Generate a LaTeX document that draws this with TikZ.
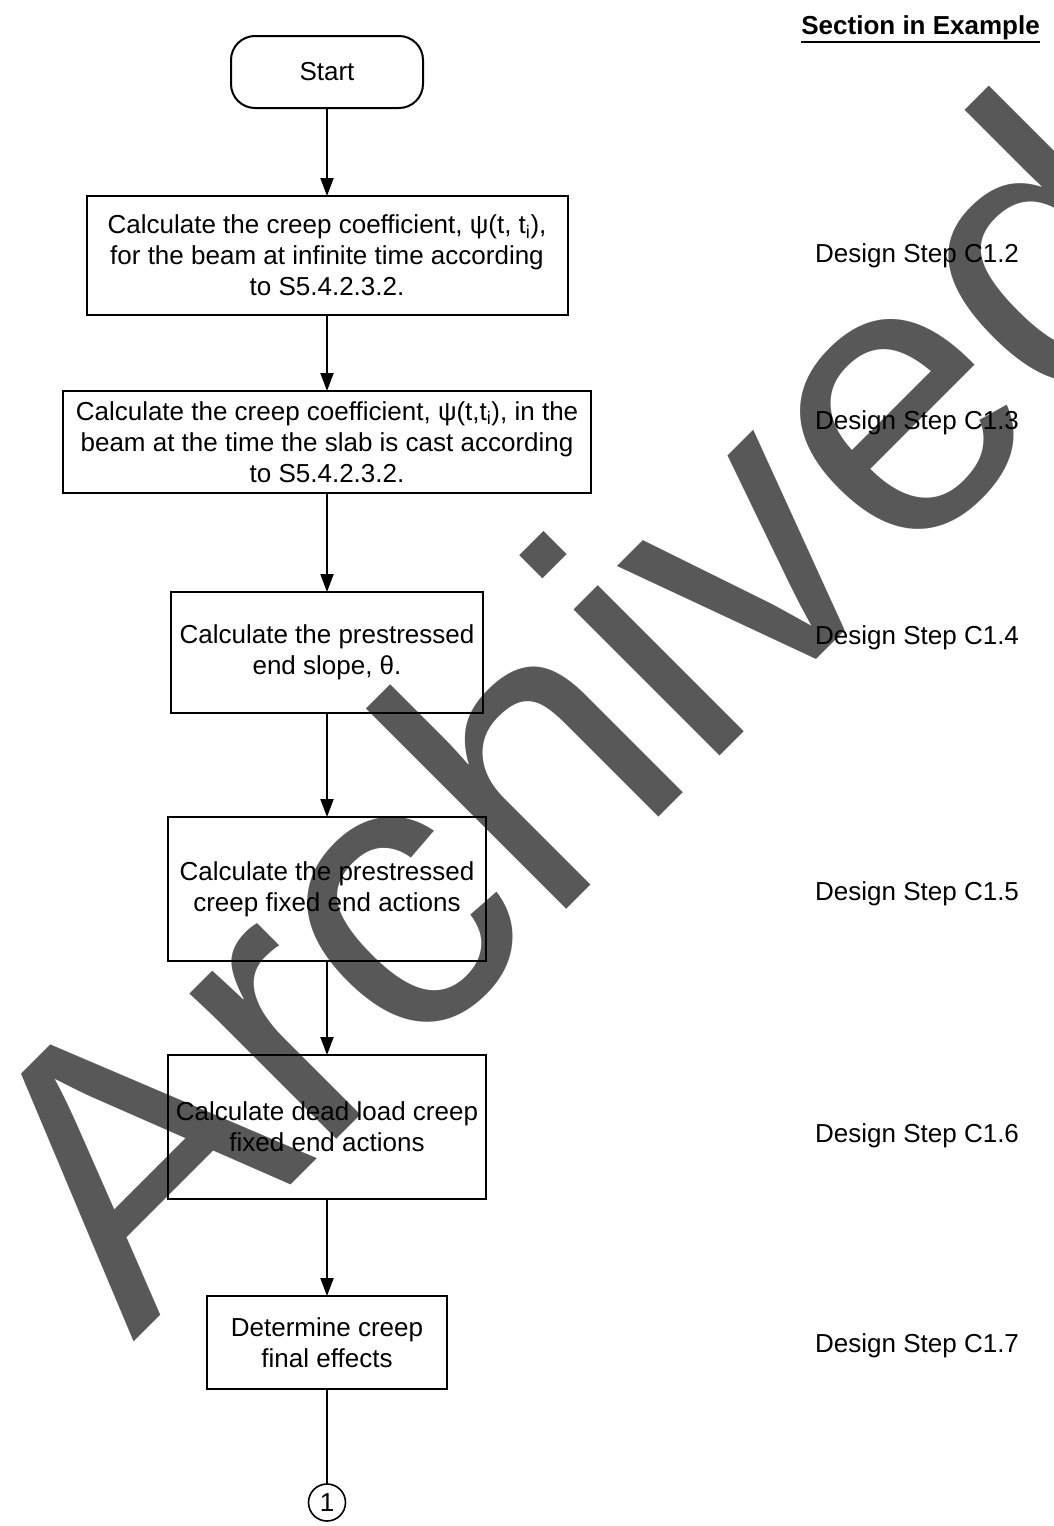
\documentclass[tikz,border=0pt]{standalone}
\usepackage{fontspec}
\setmainfont{Liberation Sans}
\usetikzlibrary{positioning,shapes,arrows.meta}
\definecolor{wmgray}{RGB}{88,88,88}

\begin{document}
\begin{tikzpicture}[
  x=1pt, y=-1pt,
  font=\fontsize{26}{31}\selectfont,
  term/.style={draw,line width=2pt,outer sep=0pt,rectangle,rounded corners=24pt,minimum width=192pt,minimum height=72pt},
  proc/.style={draw,line width=2pt,outer sep=0pt,rectangle,align=center,inner sep=0pt},
  conn/.style={draw,line width=1.6pt,outer sep=0pt,circle,minimum size=37pt,inner sep=0pt},
  sect/.style={anchor=west,inner sep=0pt},
  arr/.style={line width=2pt,-{Triangle[length=18pt,width=13pt]}},
  plain/.style={line width=2pt}
]
\useasboundingbox (0,0) rectangle (1053,1526);

% watermark
\node[text=wmgray,font=\fontsize{391}{400}\selectfont,rotate=45,anchor=base west,inner sep=0pt] (wm) at (133,1343) {Archived};

\node[term] (start) at (327,72) {Start};
\node[proc,below=88pt of start,minimum width=481pt,minimum height=119pt] (b1)
  {Calculate the creep coefficient, ψ(t, t\textsubscript{i}),\\for the beam at infinite time according\\to S5.4.2.3.2.};
\node[proc,below=76pt of b1,minimum width=528pt,minimum height=102pt] (b2)
  {Calculate the creep coefficient, ψ(t,t\textsubscript{i}), in the\\beam at the time the slab is cast according\\to S5.4.2.3.2.};
\node[proc,below=99pt of b2,minimum width=312pt,minimum height=121pt] (b3)
  {Calculate the prestressed\\end slope, θ.};
\node[proc,below=104pt of b3,minimum width=318pt,minimum height=144pt] (b4)
  {Calculate the prestressed\\creep fixed end actions};
\node[proc,below=94pt of b4,minimum width=318pt,minimum height=144pt] (b5)
  {Calculate dead load creep\\fixed end actions};
\node[proc,below=97pt of b5,minimum width=240pt,minimum height=93pt] (b6)
  {Determine creep\\final effects};
\node[conn,below=95pt of b6] (c1) {1};

% section column
\node[anchor=base east,inner sep=0pt,font=\fontsize{26}{31}\selectfont\bfseries] (hdr) at (1040,34) {Section in Example};
\draw[line width=2pt] ([yshift=-2pt]hdr.south west) -- ([yshift=-2pt]hdr.south east);
\node[sect] (s2) at (815,256) {Design Step C1.2};
\node[sect] (s3) at (815,423) {Design Step C1.3};
\node[sect] (s4) at (815,638) {Design Step C1.4};
\node[sect] (s5) at (815,894) {Design Step C1.5};
\node[sect] (s6) at (815,1136) {Design Step C1.6};
\node[sect] (s7) at (815,1346) {Design Step C1.7};

\path
(start) edge[arr] (b1)
(b1) edge[arr] (b2)
(b2) edge[arr] (b3)
(b3) edge[arr] (b4)
(b4) edge[arr] (b5)
(b5) edge[arr] (b6)
(b6) edge[plain] (c1)
;

\end{tikzpicture}
\end{document}
